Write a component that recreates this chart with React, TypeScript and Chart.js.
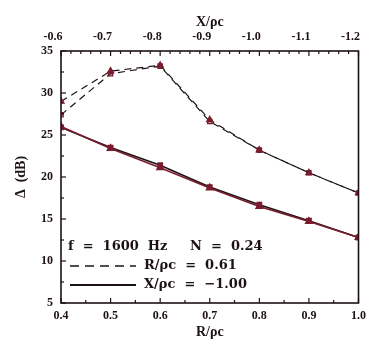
import React, { useEffect, useRef } from "react";
import { Chart, registerables } from "chart.js";

Chart.register(...registerables);

// Resistance R/ρc (bottom axis) for the constant-reactance curves
const resistance = [0.4, 0.5, 0.6, 0.7, 0.8, 0.9, 1.0];
// Reactance X/ρc (top axis) for the constant-resistance curves
const reactance = [-0.6, -0.7, -0.8, -0.9, -1.0, -1.1, -1.2];

// Δ (dB) for X/ρc = -1.00, R/ρc varied
const solidTriangles = [26.0, 23.4, 21.1, 18.7, 16.5, 14.7, 12.8];
const solidSquares = [25.9, 23.5, 21.4, 18.8, 16.7, 14.8, 12.8];
// Δ (dB) for R/ρc = 0.61, X/ρc varied
const dashedTriangles = [29.0, 32.6, 33.3, 26.8, 23.2, 20.5, 18.1];
const dashedSquares = [27.4, 32.3, 33.2, 26.6, 23.2, 20.5, 18.1];

const yTicks = [5, 10, 15, 20, 25, 30, 35];

const legendLines = [
  { dash: null as number[] | null, text: "f  =  1600  Hz     N  =  0.24" },
  { dash: [9, 6], text: "R/ρc  =  0.61" },
  { dash: [], text: "X/ρc  =  −1.00" },
];

const INK = "#1c1214";
const MARK = "#7a1c2e";
const SERIF = "'Liberation Serif', 'DejaVu Serif', serif";
const KEY_FONT = "bold 13px 'DejaVu Serif', serif";

const pairs = (xs: number[], ys: number[]) => xs.map((x, i) => ({ x, y: ys[i] }));

// Inward tick marks, plot frame and the in-plot key
const framePlugin = {
  id: "frameAndKey",
  afterDraw(chart: any) {
    const { ctx, chartArea: a, scales } = chart;
    ctx.save();
    ctx.strokeStyle = INK;
    ctx.lineWidth = 1.6;
    ctx.strokeRect(a.left, a.top, a.right - a.left, a.bottom - a.top);

    ctx.lineWidth = 1.2;
    const tick = (x1: number, y1: number, x2: number, y2: number) => {
      ctx.beginPath();
      ctx.moveTo(x1, y1);
      ctx.lineTo(x2, y2);
      ctx.stroke();
    };
    // left axis
    for (let v = 5; v <= 35.001; v += 2.5) {
      const y = scales.y.getPixelForValue(v);
      const major = Math.abs(v / 5 - Math.round(v / 5)) < 1e-6;
      tick(a.left, y, a.left + (major ? 5 : 3), y);
    }
    // bottom axis
    for (let i = 0; i <= 12; i++) {
      const v = 0.4 + i * 0.05;
      const x = scales.x.getPixelForValue(v);
      tick(x, a.bottom, x, a.bottom - (i % 2 === 0 ? 5 : 3));
    }
    // top axis
    for (let i = 0; i <= 31; i++) {
      const v = -0.6 - i * 0.02;
      const x = scales.x2.getPixelForValue(v);
      if (x > a.right + 0.5) break;
      tick(x, a.top, x, a.top + (i % 5 === 0 ? 5 : 3));
    }

    // key
    ctx.fillStyle = INK;
    ctx.font = KEY_FONT;
    ctx.textBaseline = "middle";
    const x0 = a.left + 7;
    let y = a.bottom - 56;
    legendLines.forEach((l) => {
      if (l.dash === null) {
        ctx.fillText(l.text, x0, y);
      } else {
        ctx.lineWidth = l.dash.length ? 1.3 : 1.8;
        ctx.setLineDash(l.dash);
        tick(x0 + 2, y, x0 + 68, y);
        ctx.setLineDash([]);
        ctx.fillText(l.text, x0 + 76, y);
      }
      y += 19;
    });
    ctx.restore();
  },
};

export default function App() {
  const ref = useRef<HTMLCanvasElement | null>(null);

  useEffect(() => {
    document.body.style.margin = "0";
    const tickFont = { family: SERIF, size: 12, weight: "bold" as const };
    const titleFont = { family: SERIF, size: 14, weight: "bold" as const };
    const chart = new Chart(ref.current as HTMLCanvasElement, {
      type: "line",
      data: {
        datasets: [
          {
            data: pairs(reactance, dashedTriangles),
            xAxisID: "x2",
            borderColor: INK,
            borderWidth: 1.2,
            borderDash: [7, 5],
            pointStyle: "triangle",
            pointRadius: 3.6,
            pointBackgroundColor: MARK,
            pointBorderColor: MARK,
          },
          {
            data: pairs(reactance, dashedSquares),
            xAxisID: "x2",
            borderColor: INK,
            borderWidth: 1.2,
            borderDash: [7, 5],
            pointStyle: "rect",
            pointRadius: 3,
            pointBackgroundColor: "rgba(122,28,46,0.35)",
            pointBorderColor: MARK,
            pointBorderWidth: 1.3,
          },
          {
            data: pairs(resistance, solidTriangles),
            xAxisID: "x",
            borderColor: MARK,
            borderWidth: 1.6,
            pointStyle: "triangle",
            pointRadius: 3.6,
            pointBackgroundColor: MARK,
            pointBorderColor: MARK,
          },
          {
            data: pairs(resistance, solidSquares),
            xAxisID: "x",
            borderColor: INK,
            borderWidth: 1.6,
            pointStyle: "rect",
            pointRadius: 3,
            pointBackgroundColor: MARK,
            pointBorderColor: MARK,
          },
        ],
      },
      options: {
        animation: false,
        responsive: false,
        layout: { padding: { left: 0, right: 9, top: 0, bottom: 0 } },
        plugins: { legend: { display: false }, tooltip: { enabled: false } },
        scales: {
          x: {
            type: "linear",
            position: "bottom",
            min: 0.4,
            max: 1.0,
            grid: { display: false, drawTicks: false },
            border: { display: false },
            ticks: {
              stepSize: 0.1,
              padding: 6,
              color: INK,
              font: tickFont,
              maxRotation: 0,
              callback: (v: any) => Number(v).toFixed(1),
            },
            title: { display: true, text: "R/ρc", color: INK, font: titleFont, padding: { top: 0, bottom: 4 } },
            afterFit: (s: any) => {
              s.height = 42;
            },
          },
          x2: {
            type: "linear",
            position: "top",
            min: -1.2,
            max: -0.6,
            reverse: true,
            grid: { display: false, drawTicks: false },
            border: { display: false },
            ticks: {
              stepSize: 0.1,
              padding: 7,
              labelOffset: -8,
              color: INK,
              font: tickFont,
              maxRotation: 0,
              callback: (v: any) => Number(v).toFixed(1),
            },
            title: { display: true, text: "X/ρc", color: INK, font: titleFont, padding: { top: 14, bottom: 0 } },
            afterFit: (s: any) => {
              s.height = 51;
            },
          },
          y: {
            type: "linear",
            min: 5,
            max: 35,
            afterBuildTicks: (s: any) => {
              s.ticks = yTicks.map((value) => ({ value }));
            },
            grid: { display: false, drawTicks: false },
            border: { display: false },
            ticks: { padding: 8, color: INK, font: tickFont },
            title: { display: true, text: "Δ  (dB)", color: INK, font: titleFont, padding: { top: 13, bottom: 0 } },
            afterFit: (s: any) => {
              s.width = 61;
            },
          },
        },
      },
      plugins: [framePlugin],
    });
    return () => chart.destroy();
  }, []);

  return (
    <div style={{ position: "absolute", left: 0, top: 0, width: 375, height: 345, background: "#fff" }}>
      <canvas ref={ref} width={375} height={345} />
    </div>
  );
}
